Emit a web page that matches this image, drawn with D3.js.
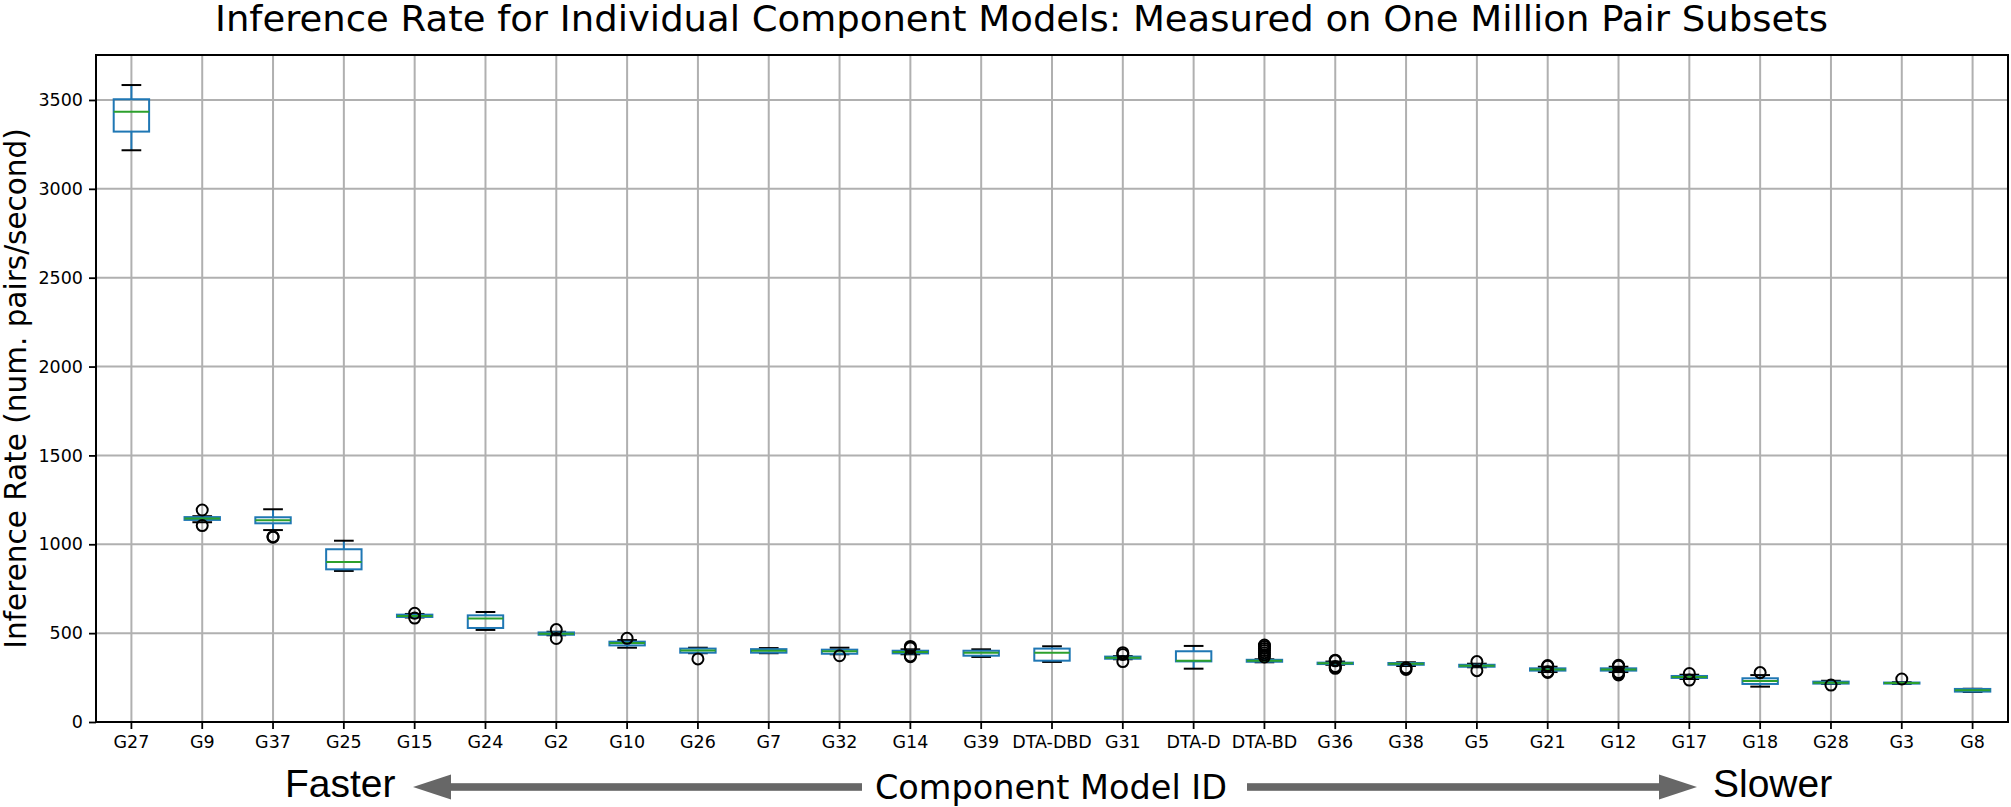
<!DOCTYPE html>
<html><head><meta charset="utf-8">
<script src="https://cdn.jsdelivr.net/npm/d3@7"></script>
<style>
html,body{margin:0;padding:0;background:#fff;}
svg{display:block;}
</style></head>
<body>
<svg id="chart" width="2011" height="807"></svg>
<script>
const categories = ["G27","G9","G37","G25","G15","G24","G2","G10","G26","G7","G32","G14","G39","DTA-DBD","G31","DTA-D","DTA-BD","G36","G38","G5","G21","G12","G17","G18","G28","G3","G8"];
const whiskerLow  = [3217,1124,1080,850,588,518,488,418,387,387,381,381,366,338,353,300,336,322,315,308,281,281,242,199,214,214,169];
const q1Values    = [3322,1137,1118,859,591,529,491,431,390,390,384,386,373,345,356,341,339,326,322,311,289,289,248,214,216,216,171];
const medians     = [3434,1145,1135,900,597,582,497,445,403,401,398,394,390,390,362,345,345,330,328,317,296,296,253,231,221,219,178];
const q3Values    = [3504,1153,1152,972,604,600,504,452,413,410,407,401,401,413,368,398,350,334,332,322,302,302,259,246,227,222,186];
const whiskerHigh = [3584,1158,1197,1020,608,619,508,461,418,416,418,409,409,426,371,428,353,340,336,328,311,311,266,264,232,224,187];
const outliers = [
  [], [1193,1105], [1043,1040], [], [612,585], [], [520,470], [471], [355], [], [373],
  [425,417,372,367], [], [], [390,380,340], [], [366,378,390,402,414,425,433],
  [348,344,312,307,302], [305,296], [340,289], [318,314,283,279], [319,314,278,271,265],
  [273,236], [278], [208], [242], []
];
const yTicks = [0,500,1000,1500,2000,2500,3000,3500];
const titleText = "Inference Rate for Individual Component Models: Measured on One Million Pair Subsets";
const yLabel = "Inference Rate (num. pairs/second)";
const xLabel = "Component Model ID";
const leftNote = "Faster";
const rightNote = "Slower";

const svg = d3.select("#chart");
const L = 96, R = 2008, T = 55, B = 722;
const x = d3.scaleBand().domain(categories).range([L, R]).padding(0);
const y = d3.scaleLinear().domain([0, 3753]).range([B, T]);
const bw = x.bandwidth();
const cx = c => x(c) + bw / 2;
const font = "'DejaVu Sans', sans-serif";

// grid
const grid = svg.append("g");
grid.selectAll("line.v").data(categories).join("line")
  .attr("x1", d => cx(d)).attr("x2", d => cx(d)).attr("y1", T).attr("y2", B)
  .attr("stroke", "#b0b0b0").attr("stroke-width", 2);
grid.selectAll("line.h").data(yTicks).join("line")
  .attr("x1", L).attr("x2", R).attr("y1", d => y(d)).attr("y2", d => y(d))
  .attr("stroke", "#b0b0b0").attr("stroke-width", 2);

// axes
const yAxis = svg.append("g").attr("transform", `translate(${L},0)`)
  .call(d3.axisLeft(y).tickValues(yTicks).tickSize(7).tickPadding(6).tickFormat(d3.format("d")));
const xAxis = svg.append("g").attr("transform", `translate(0,${B})`)
  .call(d3.axisBottom(x).tickSize(7).tickPadding(7));
[yAxis, xAxis].forEach(a => {
  a.select(".domain").remove();
  a.selectAll(".tick line").attr("stroke", "#000").attr("stroke-width", 1.8);
  a.selectAll(".tick text").attr("font-family", font).attr("font-size", 17.5).attr("fill", "#000");
});

// boxes
const data = categories.map((c, i) => ({c, lo: whiskerLow[i], q1: q1Values[i], med: medians[i], q3: q3Values[i], hi: whiskerHigh[i], out: outliers[i]}));
const g = svg.append("g");
const boxW = bw * 0.5, capW = bw * 0.25;
const blue = "#1f77b4";
data.forEach(d => {
  const xc = cx(d.c);
  g.append("line").attr("x1", xc).attr("x2", xc).attr("y1", y(d.q3)).attr("y2", y(d.hi)).attr("stroke", blue).attr("stroke-width", 2);
  g.append("line").attr("x1", xc).attr("x2", xc).attr("y1", y(d.q1)).attr("y2", y(d.lo)).attr("stroke", blue).attr("stroke-width", 2);
  g.append("line").attr("x1", xc - capW/2).attr("x2", xc + capW/2).attr("y1", y(d.hi)).attr("y2", y(d.hi)).attr("stroke", "#000").attr("stroke-width", 2).attr("stroke-linecap", "square");
  g.append("line").attr("x1", xc - capW/2).attr("x2", xc + capW/2).attr("y1", y(d.lo)).attr("y2", y(d.lo)).attr("stroke", "#000").attr("stroke-width", 2).attr("stroke-linecap", "square");
  g.append("rect").attr("x", xc - boxW/2).attr("width", boxW).attr("y", y(d.q3)).attr("height", Math.max(0.5, y(d.q1) - y(d.q3)))
    .attr("fill", "none").attr("stroke", blue).attr("stroke-width", 2);
  g.append("line").attr("x1", xc - boxW/2).attr("x2", xc + boxW/2).attr("y1", y(d.med)).attr("y2", y(d.med)).attr("stroke", "#2ca02c").attr("stroke-width", 2);
  g.selectAll(null).data(d.out).join("circle").attr("cx", xc).attr("cy", v => y(v)).attr("r", 5.5)
    .attr("fill", "none").attr("stroke", "#000").attr("stroke-width", 2);
});

// frame
svg.append("rect").attr("x", L).attr("y", T).attr("width", R - L).attr("height", B - T)
  .attr("fill", "none").attr("stroke", "#000").attr("stroke-width", 2);

// title
svg.append("text").attr("x", 1021.5).attr("y", 31).attr("text-anchor", "middle")
  .attr("font-family", font).attr("font-size", 35).attr("fill", "#000")
  .attr("textLength", 1613).attr("lengthAdjust", "spacingAndGlyphs").text(titleText);

// y label
svg.append("text").attr("transform", `translate(26,${(T + B) / 2}) rotate(-90)`).attr("text-anchor", "middle")
  .attr("font-family", font).attr("font-size", 29.5).attr("fill", "#000").text(yLabel);

// x label and arrows
svg.append("text").attr("x", 1051).attr("y", 799).attr("text-anchor", "middle")
  .attr("font-family", font).attr("font-size", 33.5).attr("fill", "#000").text(xLabel);
const arrowColor = "#676767";
const ay = 787;
svg.append("rect").attr("x", 446).attr("y", ay - 3.8).attr("width", 862 - 446).attr("height", 7.6).attr("fill", arrowColor);
svg.append("path").attr("d", `M413,${ay} L451,${ay-12.5} L451,${ay+12.5} Z`).attr("fill", arrowColor);
svg.append("rect").attr("x", 1247).attr("y", ay - 3.8).attr("width", 1664 - 1247).attr("height", 7.6).attr("fill", arrowColor);
svg.append("path").attr("d", `M1697,${ay} L1659,${ay-12.5} L1659,${ay+12.5} Z`).attr("fill", arrowColor);
svg.append("text").attr("x", 285).attr("y", 797).attr("font-family", "'Liberation Sans', Arial, sans-serif")
  .attr("font-size", 39).attr("fill", "#000").text(leftNote);
svg.append("text").attr("x", 1713).attr("y", 797).attr("font-family", "'Liberation Sans', Arial, sans-serif")
  .attr("font-size", 39).attr("fill", "#000").text(rightNote);
</script>
</body></html>
